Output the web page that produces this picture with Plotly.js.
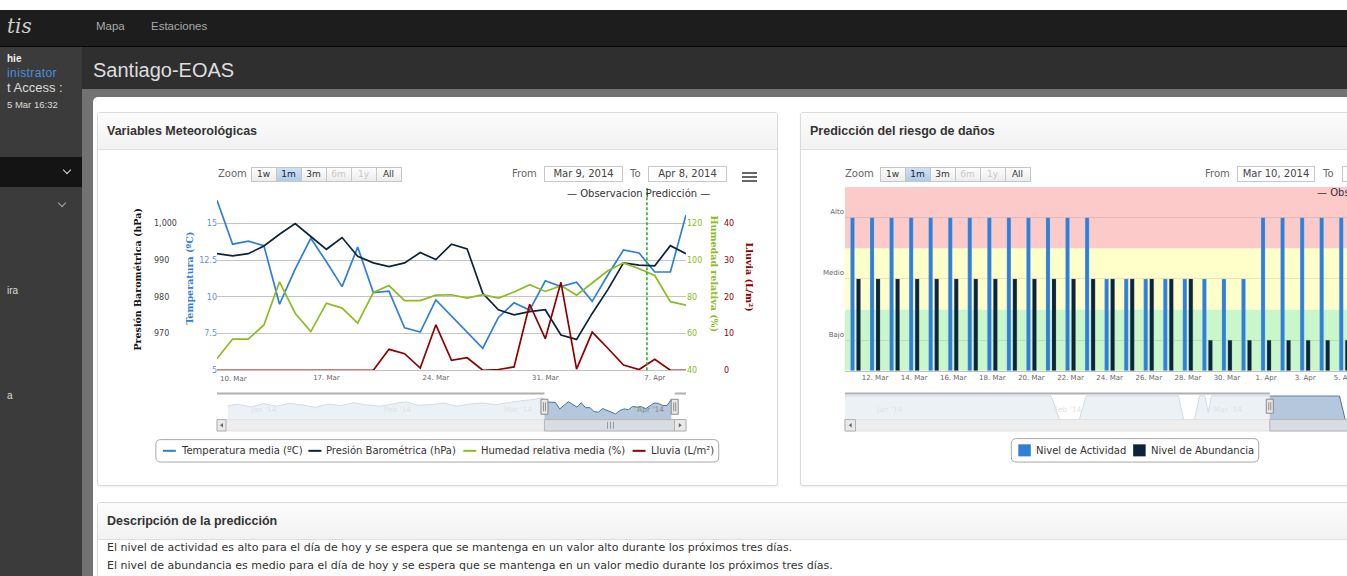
<!DOCTYPE html>
<html lang="es">
<head>
<meta charset="utf-8">
<title>Santiago-EOAS</title>
<script src="https://cdn.plot.ly/plotly-3.0.1.min.js"></script>
<style>
* { box-sizing: border-box; }
html, body { margin:0; padding:0; width:1347px; height:576px; overflow:hidden; background:#fff; font-family:"Liberation Sans", Arial, sans-serif; }
.a { position:absolute; }
#nav { left:0; top:10px; width:1347px; height:37px; background:#1d1d1d; border-bottom:1px solid #080808; }
#logo { left:7px; top:14px; font: italic 20px "DejaVu Serif", serif; color:#cfcfcf; }
.navlink { top:20px; font-size:11.5px; color:#a9a9a9; }
#side { left:0; top:47px; width:82px; height:529px; background:#3b3b3b; }
#hdr { left:82px; top:47px; width:1265px; height:42px; background:#2f2f2f; }
#hdrtitle { left:93px; top:59px; font-size:20px; color:#dedede; }
#frame { left:82px; top:89px; width:1265px; height:487px; background:#727272; }
#content { left:93px; top:97px; width:1260px; height:490px; background:#fff; border-radius:5px 0 0 0; }
.panel { background:#fff; border:1px solid #dadada; border-radius:3px; box-shadow:0 1px 2px rgba(0,0,0,0.07); overflow:hidden; }
.phead { height:37px; line-height:36px; padding-left:9px; font-weight:bold; font-size:12.5px; color:#333; background:linear-gradient(#fcfcfc,#f2f2f2); border-bottom:1px solid #dedede; }
.side-t { left:7px; color:#dcdcdc; white-space:nowrap; }
.chev { width:6px; height:6px; border-right:1.5px solid #ddd; border-bottom:1.5px solid #ddd; transform:rotate(45deg); }
.rs-txt { font:10px "DejaVu Sans", sans-serif; color:#666; white-space:nowrap; }
.rs-btn { height:15px; border:1px solid #c6c6c6; background:linear-gradient(#fdfdfd,#ececec); font:9px "DejaVu Sans", sans-serif; color:#333; text-align:center; line-height:13px; }
.rs-btn.sel { background:linear-gradient(#cfe0f3,#b3cbe6); color:#0d233a; }
.rs-btn.dis { color:#c8c8c8; }
.rs-inp { height:16px; border:1px solid #c8c8c8; background:#fff; font:10px "DejaVu Sans", sans-serif; color:#444; text-align:center; line-height:14px; white-space:nowrap; overflow:hidden; }
.burger { width:15px; height:2px; background:#666; }
.desc { left:107px; font:11px "DejaVu Sans", sans-serif; color:#333; white-space:nowrap; }
.chart { position:absolute; }
</style>
</head>
<body>
<script>
// ================= DATOS =================
// Serie meteorológica diaria (10 mar – 9 abr 2014)
const fechas = ['2014-03-10','2014-03-11','2014-03-12','2014-03-13','2014-03-14','2014-03-15','2014-03-16',
  '2014-03-17','2014-03-18','2014-03-19','2014-03-20','2014-03-21','2014-03-22','2014-03-23','2014-03-24',
  '2014-03-25','2014-03-26','2014-03-27','2014-03-28','2014-03-29','2014-03-30','2014-03-31','2014-04-01',
  '2014-04-02','2014-04-03','2014-04-04','2014-04-05','2014-04-06','2014-04-07','2014-04-08','2014-04-09'];
const temperatura = [16.6,13.6,13.8,13.5,9.5,11.9,14.0,12.4,10.7,13.4,10.3,10.4,7.9,7.6,9.8,8.7,7.6,6.5,
  8.6,9.6,9.1,11.1,10.7,11.0,9.7,11.5,13.2,13.0,11.7,11.7,15.6];
const presion = [991.8,991.2,991.8,993.9,997.1,1000.0,996.5,993.0,996.2,991.1,989.3,988.3,989.3,992.1,990.2,
  994.4,993.1,981.0,976.5,975.1,976.0,976.5,969.6,968.4,975.5,982.0,989.3,988.7,988.5,994.0,991.8];
const humedad = [46.4,57.0,57.0,64.7,88.2,71.1,61.1,76.6,73.9,65.7,82.5,86.2,78.0,78.0,81.0,81.2,79.4,81.2,
  79.4,82.7,86.7,83.0,86.2,81.0,87.6,94.3,98.6,95.4,91.7,77.4,75.5];
const lluvia = [0,0,0,0,0,0,0,0,0,0,0,5.7,4.5,0.6,12.4,2.7,3.4,0,0.2,0.9,18.0,8.6,24.0,0.3,10.4,6.0,1.4,0.2,3.0,0,0];
const nombresSeries = ['Temperatura media (ºC)','Presión Barométrica (hPa)','Humedad relativa media (%)','Lluvia (L/m²)'];
const titulosEjes = ['Presión Barométrica (hPa)','Temperatura (ºC)','Humedad relativa (%)','Lluvia (L/m²)'];
const ticksFechaMeteo = ['2014-03-10','2014-03-17','2014-03-24','2014-03-31','2014-04-07'];
const ticksTextoMeteo = ['10. Mar','17. Mar','24. Mar','31. Mar','7. Apr'];
const ticksTemp = [5,7.5,10,12.5,15,17.5];
const ticksTempTexto = ['5','7.5','10','12.5','15',''];
const ticksPresion = [960,970,980,990,1000];
const ticksPresionTexto = ['960','970','980','990','1,000'];
const ticksHumedad = [40,60,80,100,120];
const ticksLluvia = [0,10,20,30,40];
const fechaPrediccion = '2014-04-06 12:00';
const textoObsPred = '— Observacion Predicción —';
// Navegador (temperatura; tramo anterior estimado del minigráfico)
const navFechasPrevias = ['2013-12-26 14:00','2013-12-29','2014-01-01','2014-01-04','2014-01-07','2014-01-10','2014-01-13',
  '2014-01-16','2014-01-19','2014-01-22','2014-01-25','2014-01-28','2014-01-31','2014-02-03','2014-02-06',
  '2014-02-09','2014-02-12','2014-02-15','2014-02-18','2014-02-21','2014-02-24','2014-02-27','2014-03-02',
  '2014-03-05','2014-03-08'];
const navTempPrevia = [11.5,12.5,10.8,12.8,11.2,13.0,12.0,10.5,12.6,11.6,13.4,12.0,11.2,12.6,14.0,11.8,12.2,
  13.2,11.2,12.6,13.2,12.2,13.6,14.6,15.4];
const navTicksMeteo = ['2014-01-01','2014-02-01','2014-03-01','2014-04-01'];
const navTicksTexto = ["Jan '14","Feb '14","Mar '14","Apr '14"];
const seleccionMeteo = ['2014-03-10 10:00','2014-04-09 19:00'];

// Riesgo de daños (1 = Bajo, 2 = Medio, 3 = Alto)
const fechasRiesgo = ['2014-03-11','2014-03-12','2014-03-13','2014-03-14','2014-03-15','2014-03-16','2014-03-17',
  '2014-03-18','2014-03-19','2014-03-20','2014-03-21','2014-03-22','2014-03-23','2014-03-24','2014-03-25',
  '2014-03-26','2014-03-27','2014-03-28','2014-03-29','2014-03-30','2014-03-31','2014-04-01','2014-04-02',
  '2014-04-03','2014-04-04','2014-04-05'];
const nivelActividad = [3,3,3,3,3,3,3,3,3,3,3,3,3,2,2,2,2,2,2,2,2,3,3,3,3,3];
const nivelAbundancia = [2,2,2,2,2,2,2,2,2,2,2,2,2,2,2,2,2,2,1,1,1,1,1,1,1,1];
const nivelesTexto = ['Bajo','Medio','Alto'];
const nivelesValor = [1,2,3];
const ticksFechaRiesgo = ['2014-03-12','2014-03-14','2014-03-16','2014-03-18','2014-03-20','2014-03-22','2014-03-24',
  '2014-03-26','2014-03-28','2014-03-30','2014-04-01','2014-04-03','2014-04-05'];
const ticksTextoRiesgo = ['12. Mar','14. Mar','16. Mar','18. Mar','20. Mar','22. Mar','24. Mar','26. Mar',
  '28. Mar','30. Mar','1. Apr','3. Apr','5. Apr'];
const nombresRiesgo = ['Nivel de Actividad','Nivel de Abundancia'];
const navFechasRiesgo = ['2013-12-26','2014-01-31 12:00','2014-02-02','2014-02-05 10:00','2014-02-06 15:00',
  '2014-02-22 19:00','2014-02-23 17:00','2014-02-25 14:00','2014-02-26 12:00','2014-02-27 10:00','2014-02-28',
  '2014-02-28 14:00','2014-03-23','2014-03-24','2014-03-31','2014-04-01','2014-04-09'];
const navActividad = [3,3,2,2,3,3,2,2,3,3,2.3,3,3,2,2,3,3];
const navTicksRiesgo = ['2014-01-01','2014-02-01','2014-03-01'];
const navTicksRiesgoTexto = ["Jan '14","Feb '14","Mar '14"];
const seleccionRiesgo = ['2014-03-10 19:00','2014-04-09 14:00'];
</script>

<!-- ================= ESTRUCTURA ================= -->
<div class="a" id="nav"></div>
<div class="a" id="logo">tis</div>
<div class="a navlink" style="left:96px">Mapa</div>
<div class="a navlink" style="left:151px">Estaciones</div>
<div class="a" id="side"></div>
<div class="a side-t" style="top:53px;font-size:10px;font-weight:bold;color:#f0f0f0">hie</div>
<div class="a side-t" style="top:66px;font-size:12px;letter-spacing:0.4px;color:#4b8fdc">inistrator</div>
<div class="a side-t" style="top:80px;font-size:13px">t Access :</div>
<div class="a side-t" style="top:99px;font-size:9.5px">5 Mar 16:32</div>
<div class="a" style="left:0;top:157px;width:82px;height:30px;background:#141414"></div>
<div class="a chev" style="left:64px;top:167px"></div>
<div class="a chev" style="left:59px;top:200px;border-color:#aaa"></div>
<div class="a side-t" style="top:285px;font-size:10px">ira</div>
<div class="a side-t" style="top:390px;font-size:10px">a</div>
<div class="a" id="hdr"></div>
<div class="a" id="hdrtitle">Santiago-EOAS</div>
<div class="a" id="frame"></div>
<div class="a" id="content"></div>

<div class="a panel" style="left:97px;top:112px;width:681px;height:374px"><div class="phead">Variables Meteorológicas</div></div>
<div class="a panel" style="left:800px;top:112px;width:620px;height:374px"><div class="phead">Predicción del riesgo de daños</div></div>
<div class="a panel" style="left:97px;top:502px;width:1300px;height:120px"><div class="phead">Descripción de la predicción</div></div>
<div class="a desc" style="top:541px">El nivel de actividad es alto para el día de hoy y se espera que se mantenga en un valor alto durante los próximos tres días.</div>
<div class="a desc" style="top:559px">El nivel de abundancia es medio para el día de hoy y se espera que se mantenga en un valor medio durante los próximos tres días.</div>

<div class="chart" id="chartMeteo" style="left:100px;top:183px;width:677px;height:300px"></div>
<div class="chart" id="chartRiesgo" style="left:800px;top:183px;width:644px;height:300px"></div>

<script>
// ---------- selector de rango (HTML) ----------
const botonesZoom = ['1w','1m','3m','6m','1y','All'];
function selectorRango(xZoom, xBotones, anchoBtn, xFrom, xIn1, wIn1, xTo, xIn2, wIn2, desde, hasta, burgerX) {
  const add = (cls, style, txt) => { const d = document.createElement('div'); d.className = 'a ' + cls; d.setAttribute('style', style); if (txt !== undefined) d.textContent = txt; document.body.appendChild(d); return d; };
  add('rs-txt', `left:${xZoom}px;top:168px`, 'Zoom');
  botonesZoom.forEach((b, i) => {
    const cls = 'rs-btn' + (i === 1 ? ' sel' : '') + (i === 3 || i === 4 ? ' dis' : '');
    add(cls, `left:${(xBotones + i * (anchoBtn - 1)).toFixed(1)}px;top:167px;width:${anchoBtn}px`, b);
  });
  add('rs-txt', `left:${xFrom}px;top:168px`, 'From');
  add('rs-inp', `left:${xIn1}px;top:166px;width:${wIn1}px`, desde);
  add('rs-txt', `left:${xTo}px;top:168px`, 'To');
  add('rs-inp', `left:${xIn2}px;top:166px;width:${wIn2}px`, hasta);
  if (burgerX) { [172, 176, 180].forEach(t => add('burger', `left:${burgerX}px;top:${t}px`)); }
}
selectorRango(218, 250.5, 26, 512, 544, 79, 630, 648, 79, 'Mar 9, 2014', 'Apr 8, 2014', 742);
selectorRango(845, 879.5, 26, 1205, 1237, 78, 1323, 1342, 80, 'Mar 10, 2014', 'Apr 9, 2014', null);

// ---------- utilidades ----------
const ctxMedida = document.createElement('canvas').getContext('2d');
function anchoTexto(t, px) { ctxMedida.font = px + 'px "DejaVu Sans"'; return ctxMedida.measureText(t).width; }
function rectRedondeado(x0, y0, x1, y1, r, fx, fy) {
  const P = (x, y) => `${fx(x)},${fy(y)}`;
  return `M ${P(x0 + r, y0)} L ${P(x1 - r, y0)} Q ${P(x1, y0)} ${P(x1, y0 + r)} L ${P(x1, y1 - r)} Q ${P(x1, y1)} ${P(x1 - r, y1)} ` +
         `L ${P(x0 + r, y1)} Q ${P(x0, y1)} ${P(x0, y1 - r)} L ${P(x0, y0 + r)} Q ${P(x0, y0)} ${P(x0 + r, y0)} Z`;
}
// leyenda al estilo del original (caja redondeada, símbolo corto)
function leyenda(items, xIni, yTop, yBot, tipo, fx, fy, shapes, anot) {
  const padL = 7, sym = tipo === 'line' ? 13 : 12.5, gap = 5, sep = 7, padR = 5, fs = 10;
  let x = xIni + padL;
  const yc = (yTop + yBot) / 2;
  items.forEach((it, i) => {
    if (tipo === 'line') {
      shapes.push({type:'line', xref:'paper', yref:'paper', x0:fx(x), x1:fx(x + sym), y0:fy(yc), y1:fy(yc), line:{color:it.color, width:2}});
    } else {
      shapes.push({type:'rect', xref:'paper', yref:'paper', x0:fx(x), x1:fx(x + sym), y0:fy(yc + 6), y1:fy(yc - 6), fillcolor:it.color, line:{width:0}});
    }
    x += sym + gap;
    anot.push({text:it.name, x:fx(x - 2), y:fy(yc), xanchor:'left', yanchor:'middle', xref:'paper', yref:'paper', showarrow:false,
      font:{family:'DejaVu Sans', size:fs, color:'#333'}});
    x += anchoTexto(it.name, fs) + (i < items.length - 1 ? sep : 0);
  });
  shapes.push({type:'path', xref:'paper', yref:'paper', path:rectRedondeado(xIni, yTop, x + padR, yBot, 5, fx, fy),
    line:{color:'#a8a8a8', width:1}, fillcolor:'rgba(0,0,0,0)'});
}
function anchoLeyenda(items, tipo) {
  const sym = tipo === 'line' ? 13 : 12.5;
  return 7 + items.reduce((s, it) => s + sym + 5 + anchoTexto(it.name, 10), 0) + 7 * (items.length - 1) + 5;
}

// ---------- gráfico meteorológico ----------
(function(){
  const W = 677, L0 = 100, T0 = 183;
  const pl = 217, pr = 686, pt = 187, pb = 430.7;
  const fx = px => (px - L0) / W;
  const fy = py => (pb - py) / (pb - pt);
  const dom = [fx(pl), fx(pr)];
  const colores = ['#2f7ed8','#0d233a','#8bbc21','#910000'];
  const navTop = 395, navBot = 419.3;
  const fontTick = {family:'DejaVu Sans', size:8};

  const trazas = [
    {x: fechas, y: temperatura, name: nombresSeries[0], yaxis:'y', line:{color:colores[0], width:1.7}},
    {x: fechas, y: presion, name: nombresSeries[1], yaxis:'y2', line:{color:colores[1], width:1.7}},
    {x: fechas, y: humedad, name: nombresSeries[2], yaxis:'y3', line:{color:colores[2], width:1.7}},
    {x: fechas, y: lluvia, name: nombresSeries[3], yaxis:'y4', line:{color:colores[3], width:1.7}},
    {x: navFechasPrevias.concat(fechas), y: navTempPrevia.concat(temperatura), xaxis:'x2', yaxis:'y5', name:'nav',
     fill:'tozeroy', fillcolor:'rgba(69,114,167,0.4)', line:{color:'#4572A7', width:1}, hoverinfo:'skip'}
  ].map(t => Object.assign({type:'scatter', mode:'lines', showlegend:false}, t));

  const ejeY = (extra) => Object.assign({
    anchor:'free', showgrid:false, zeroline:false, ticks:'', showline:false,
    tickfont: Object.assign({}, fontTick), ticklabelshift: -5.5
  }, extra);

  const shapes = [], anot = [];
  // línea de predicción
  shapes.push({type:'line', xref:'x', yref:'paper', x0:fechaPrediccion, x1:fechaPrediccion, y0:fy(370), y1:fy(188),
    line:{color:'#2aa52a', width:1.5, dash:'3px,2px'}});
  // navegador: máscaras blancas fuera de la selección
  const [s0, s1] = seleccionMeteo;
  shapes.push({type:'rect', xref:'x2', yref:'paper', x0:'2013-12-20', x1:s0, y0:fy(navBot), y1:fy(navTop),
    fillcolor:'rgba(255,255,255,0.75)', line:{width:0}, layer:'above'});
  shapes.push({type:'rect', xref:'x2', yref:'paper', x0:s1, x1:'2014-04-20', y0:fy(navBot), y1:fy(navTop),
    fillcolor:'rgba(255,255,255,0.75)', line:{width:0}, layer:'above'});
  // contorno superior del navegador
  shapes.push({type:'rect', xref:'x2', yref:'paper', x0:'2013-12-20', x1:s0, y0:fy(394.3), y1:fy(392.3), fillcolor:'#b0b0b0', line:{width:0}, layer:'above'});
  shapes.push({type:'rect', xref:'x2', yref:'paper', x0:s1, x1:'2014-04-20', y0:fy(394.3), y1:fy(392.3), fillcolor:'#b0b0b0', line:{width:0}, layer:'above'});
  // barra de desplazamiento
  shapes.push({type:'rect', xref:'paper', yref:'paper', x0:fx(pl), x1:fx(pr), y0:fy(430.7), y1:fy(419.3), fillcolor:'#eeeeee', line:{color:'#e2e2e2', width:1}});
  shapes.push({type:'rect', xref:'x2', yref:'paper', x0:s0, x1:s1, y0:fy(430.7), y1:fy(419.3), fillcolor:'#d8dde2', line:{color:'#b5b5b5', width:1}});
  [-3, 0, 3].forEach(o => shapes.push({type:'line', xref:'paper', yref:'paper', x0:fx(610.5+o), x1:fx(610.5+o), y0:fy(428.5), y1:fy(421.5), line:{color:'#888', width:0.8}}));
  [[pl, pl + 9, -1], [pr - 11.5, pr, 1]].forEach(([a, b, d]) => {
    shapes.push({type:'rect', xref:'paper', yref:'paper', x0:fx(a), x1:fx(b), y0:fy(430.7), y1:fy(419.3), fillcolor:'#e9e9e9', line:{color:'#b0b0b0', width:1}});
    const c = (a + b) / 2;
    shapes.push({type:'path', xref:'paper', yref:'paper',
      path:`M ${fx(c - d*1.5)} ${fy(422.7)} L ${fx(c + d*1.5)} ${fy(425)} L ${fx(c - d*1.5)} ${fy(427.3)} Z`, fillcolor:'#666', line:{width:0}});
  });
  // manijas
  [s0, s1].forEach(h => {
    shapes.push({type:'rect', xref:'x2', xsizemode:'pixel', xanchor:h, x0:-3.5, x1:3.5, yref:'paper', y0:fy(414), y1:fy(399),
      fillcolor:'#ebe7e8', line:{color:'#8a8a8a', width:1}, layer:'above'});
    [-1, 1].forEach(o => shapes.push({type:'line', xref:'x2', xsizemode:'pixel', xanchor:h, x0:o, x1:o, yref:'paper', y0:fy(411), y1:fy(402),
      line:{color:'#777', width:0.8}, layer:'above'}));
  });

  anot.push(...[
    {text:titulosEjes[0], x:fx(130), y:fy(279), textangle:-90, font:{family:'DejaVu Serif', size:9.5, color:'#111', weight:'bold'}},
    {text:titulosEjes[1], x:fx(182), y:fy(278), textangle:-90, font:{family:'DejaVu Serif', size:9.5, color:'#2f7ed8', weight:'bold'}},
    {text:titulosEjes[2], x:fx(722), y:fy(274), textangle:90, font:{family:'DejaVu Serif', size:9.5, color:'#8bbc21', weight:'bold'}},
    {text:titulosEjes[3], x:fx(757), y:fy(277), textangle:90, font:{family:'DejaVu Serif', size:9.5, color:'#910000', weight:'bold'}},
    {text:textoObsPred, x:fx(712), y:fy(193), xanchor:'right', font:{family:'DejaVu Sans', size:10, color:'#333'}},
    {text:ticksTextoMeteo[0], x:fx(218), y:fy(379), xanchor:'left', font:{family:'DejaVu Sans', size:7, color:'#666'}}
  ].map(a => Object.assign({xref:'paper', yref:'paper', showarrow:false, yanchor:'middle'}, a)));

  const items = nombresSeries.map((n, i) => ({name:n, color:colores[i]}));
  const wl = anchoLeyenda(items, 'line');
  leyenda(items, 437.3 - wl / 2, 439.3, 461.7, 'line', fx, fy, shapes, anot);

  const layout = {
    width: W, height: 300, margin:{l:0, r:0, t:pt - T0, b:300 - (pb - T0)},
    paper_bgcolor:'rgba(0,0,0,0)', plot_bgcolor:'rgba(0,0,0,0)',
    font:{family:'DejaVu Sans', color:'#666'}, showlegend:false,
    xaxis:{domain:dom, anchor:'y', type:'date', range:[fechas[0], fechas[fechas.length-1]], showgrid:false, zeroline:false,
      tickvals: ticksFechaMeteo.slice(1), ticktext: ticksTextoMeteo.slice(1), tickfont:{family:'DejaVu Sans', size:7, color:'#666'},
      ticks:'', showline:true, linecolor:'#c0c0c0', linewidth:1},
    yaxis: ejeY({domain:[fy(370), 1], position:fx(pl), side:'left', range:[5, 17.5], tickvals:ticksTemp, ticktext:ticksTempTexto,
      showgrid:true, gridcolor:'#c4c4c4', gridwidth:1, tickfont:Object.assign({}, fontTick, {color:'#5d93d6'})}),
    yaxis2: ejeY({overlaying:'y', position:fx(150), side:'left', range:[960, 1010], tickvals:ticksPresion, ticktext:ticksPresionTexto,
      ticklabelposition:'inside', tickfont:Object.assign({}, fontTick, {color:'#444'})}),
    yaxis3: ejeY({overlaying:'y', position:fx(pr), side:'right', range:[40, 140], tickvals:ticksHumedad,
      tickfont:Object.assign({}, fontTick, {color:'#8bbc21'})}),
    yaxis4: ejeY({overlaying:'y', position:fx(723), side:'right', range:[0, 50], tickvals:ticksLluvia,
      tickfont:Object.assign({}, fontTick, {color:'#910000'})}),
    xaxis2:{domain:dom, anchor:'y5', type:'date', range:['2013-12-24 02:00','2014-04-12 10:00'], showgrid:false, zeroline:false,
      tickvals:navTicksMeteo, ticktext:navTicksTexto, ticklabelposition:'inside right', ticks:'', showline:false,
      tickfont:{family:'DejaVu Sans', size:7.5, color:'#888'}},
    yaxis5:{domain:[fy(navBot), fy(navTop)], anchor:'x2', range:[3, 18], visible:false, fixedrange:true},
    shapes: shapes, annotations: anot
  };
  Plotly.newPlot('chartMeteo', trazas, layout, {displayModeBar:false, staticPlot:true});
})();

// ---------- gráfico de riesgo ----------
(function(){
  const W = 644, L0 = 800, T0 = 183;
  const pl = 845, pr = 1440, pt = 187.3, pb = 430.7;
  const fx = px => (px - pl) / (pr - pl);
  const fy = py => (pb - py) / (pb - pt);
  const dia = 86400000, pxDia = 19.55;
  const anchoBarra = 4 / pxDia * dia;
  const navTop = 395, navBot = 419.3;
  const colores = ['#2f7ed8','#0d233a'];

  const trazas = [
    {type:'bar', x:fechasRiesgo, y:nivelActividad.map(v => v - 0.5), base:0.5, name:nombresRiesgo[0],
     marker:{color:colores[0], line:{color:'rgba(160,200,240,0.6)', width:0.5}}, width:anchoBarra, offset:-5 / pxDia * dia},
    {type:'bar', x:fechasRiesgo, y:nivelAbundancia.map(v => v - 0.5), base:0.5, name:nombresRiesgo[1],
     marker:{color:colores[1], line:{color:'rgba(120,140,160,0.5)', width:0.5}}, width:anchoBarra, offset:1 / pxDia * dia},
    {type:'scatter', mode:'lines', x:navFechasRiesgo, y:navActividad, xaxis:'x2', yaxis:'y2', fill:'tozeroy', name:'nav',
     fillcolor:'rgba(69,114,167,0.4)', line:{color:'#4572A7', width:1}, hoverinfo:'skip'}
  ].map(t => Object.assign({showlegend:false}, t));

  const shapes = [], anot = [];
  const bandas = [[0.5,1.5,'#c9f7c9'],[1.5,2.5,'#ffffc9'],[2.5,3.5,'#fdcaca']];
  bandas.forEach(([a,b,c]) => shapes.push({type:'rect', xref:'paper', yref:'y', x0:0, x1:1, y0:a, y1:b, fillcolor:c, line:{width:0}, layer:'below'}));
  const [s0, s1] = seleccionRiesgo;
  shapes.push({type:'rect', xref:'x2', yref:'paper', x0:'2013-12-20', x1:s0, y0:fy(navBot), y1:fy(navTop),
    fillcolor:'rgba(255,255,255,0.75)', line:{width:0}, layer:'above'});
  shapes.push({type:'rect', xref:'x2', yref:'paper', x0:'2013-12-20', x1:s0, y0:fy(394.3), y1:fy(392.3), fillcolor:'#b0b0b0', line:{width:0}, layer:'above'});
  shapes.push({type:'rect', xref:'paper', yref:'paper', x0:fx(pl), x1:fx(pr), y0:fy(430.7), y1:fy(419.3), fillcolor:'#eeeeee', line:{color:'#e2e2e2', width:1}});
  shapes.push({type:'rect', xref:'x2', yref:'paper', x0:s0, x1:s1, y0:fy(430.7), y1:fy(419.3), fillcolor:'#d8dde2', line:{color:'#b5b5b5', width:1}});
  shapes.push({type:'rect', xref:'paper', yref:'paper', x0:fx(pl), x1:fx(pl + 10.5), y0:fy(430.7), y1:fy(419.3), fillcolor:'#e9e9e9', line:{color:'#b0b0b0', width:1}});
  shapes.push({type:'path', xref:'paper', yref:'paper', path:`M ${fx(pl+6.7)} ${fy(422.7)} L ${fx(pl+3.7)} ${fy(425)} L ${fx(pl+6.7)} ${fy(427.3)} Z`, fillcolor:'#666', line:{width:0}});
  [s0].forEach(h => {
    shapes.push({type:'rect', xref:'x2', xsizemode:'pixel', xanchor:h, x0:-3.5, x1:3.5, yref:'paper', y0:fy(413), y1:fy(399),
      fillcolor:'#ebe7e8', line:{color:'#8a8a8a', width:1}, layer:'above'});
    [-1, 1].forEach(o => shapes.push({type:'line', xref:'x2', xsizemode:'pixel', xanchor:h, x0:o, x1:o, yref:'paper', y0:fy(410), y1:fy(402),
      line:{color:'#777', width:0.8}, layer:'above'}));
  });

  anot.push({text:textoObsPred, x:fx(1314.5), y:fy(193), xanchor:'left', yanchor:'middle', xref:'paper', yref:'paper', showarrow:false,
    font:{family:'DejaVu Sans', size:10, color:'#333'}});
  const items = nombresRiesgo.map((n, i) => ({name:n, color:colores[i]}));
  const wl = anchoLeyenda(items, 'rect');
  leyenda(items, 1135 - wl / 2, 438.3, 461.7, 'rect', fx, fy, shapes, anot);

  const layout = {
    width: W, height: 300, margin:{l:pl - L0, r:L0 + W - pr, t:pt - T0, b:300 - (pb - T0)},
    paper_bgcolor:'rgba(0,0,0,0)', plot_bgcolor:'rgba(0,0,0,0)',
    font:{family:'DejaVu Sans', color:'#666'}, barmode:'overlay', showlegend:false,
    xaxis:{domain:[0,1], anchor:'y', type:'date', range:['2014-03-10 11:07','2014-04-09 21:34'], showgrid:false, zeroline:false,
      tickvals:ticksFechaRiesgo, ticktext:ticksTextoRiesgo, ticks:'', showline:true, linecolor:'#c0c0c0',
      tickfont:{family:'DejaVu Sans', size:7, color:'#666'}},
    yaxis:{domain:[fy(370.7), 1], anchor:'x', range:[0.5, 3.5], tickvals:nivelesValor, ticktext:nivelesTexto, showgrid:true,
      gridcolor:'rgba(0,0,0,0.09)', zeroline:false, ticks:'', ticklabelshift:-6, tickfont:{family:'DejaVu Sans', size:7, color:'#666'}},
    xaxis2:{domain:[0,1], anchor:'y2', type:'date', range:['2013-12-26 09:30','2014-04-09 14:30'], showgrid:false, zeroline:false,
      tickvals:navTicksRiesgo, ticktext:navTicksRiesgoTexto, ticklabelposition:'inside right', ticks:'', showline:false,
      tickfont:{family:'DejaVu Sans', size:7.5, color:'#888'}},
    yaxis2:{domain:[fy(navBot), fy(navTop)], anchor:'x2', range:[2, 3.03], visible:false, fixedrange:true},
    shapes: shapes, annotations: anot
  };
  Plotly.newPlot('chartRiesgo', trazas, layout, {displayModeBar:false, staticPlot:true});
})();
</script>
</body>
</html>
